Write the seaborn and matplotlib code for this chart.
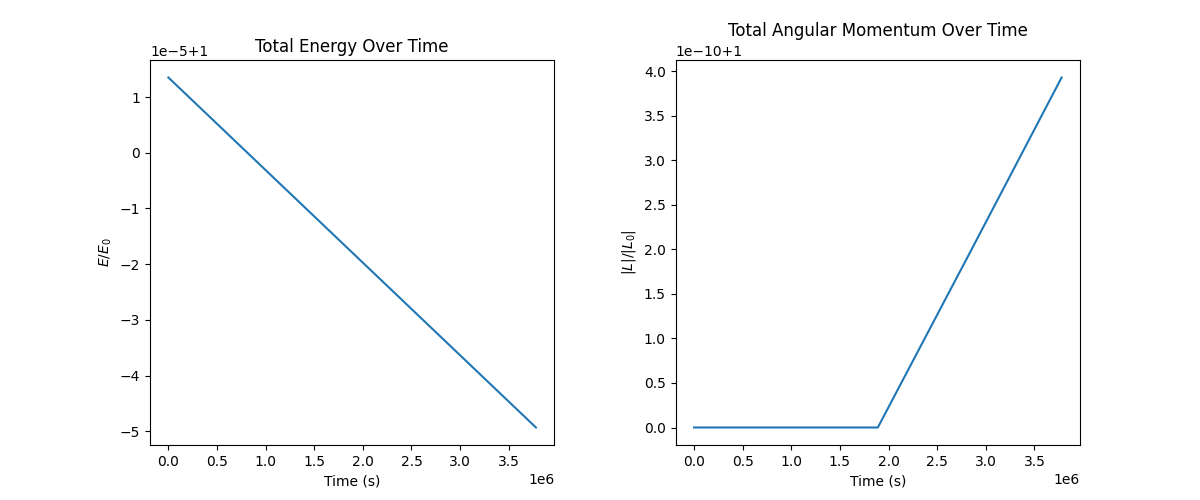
import matplotlib
matplotlib.use("Agg")
import matplotlib.pyplot as plt
import seaborn as sns
import numpy as np

# Energy data (time in s, E/E0)
t_energy = [0.0, 1.89e6, 3.78e6]
energy = [1 + 1.35e-5, 1 - 1.79e-5, 1 - 4.93e-5]

# Angular momentum data (time in s, |L|/|L0|)
t_ang = [0.0, 0.95e6, 1.89e6, 2.84e6, 3.78e6]
ang = [1.0, 1.0, 1.0, 1 + 1.97e-10, 1 + 3.93e-10]

fig, axes = plt.subplots(1, 2, figsize=(12, 5), dpi=100)
fig.subplots_adjust(left=0.125, right=0.9, top=0.88, bottom=0.11, wspace=0.3)

sns.lineplot(x=np.array(t_energy), y=np.array(energy), ax=axes[0], color="#1f77b4")
axes[0].set_title("Total Energy Over Time")
axes[0].set_xlabel("Time (s)")
axes[0].set_ylabel("$E/E_0$")

sns.lineplot(x=np.array(t_ang), y=np.array(ang), ax=axes[1], color="#1f77b4")
axes[1].set_title("Total Angular Momentum Over Time")
axes[1].set_xlabel("Time (s)")
axes[1].set_ylabel("$|L|/|L_0|$")

fig.savefig("out.png")
